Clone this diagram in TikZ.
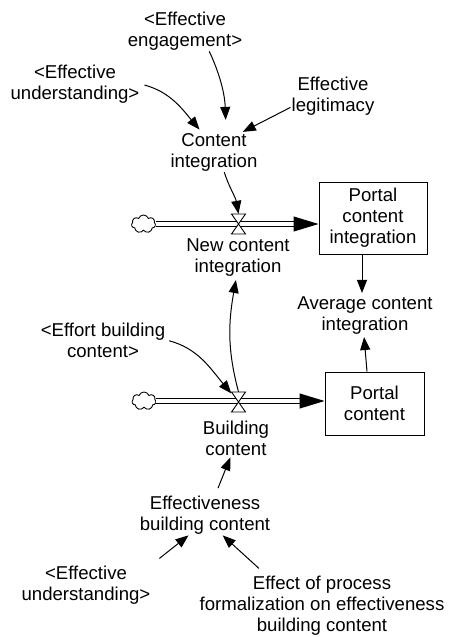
\documentclass[tikz,border=0pt]{standalone}
\usepackage{fontspec}
\setmainfont{Liberation Sans}
\usetikzlibrary{arrows.meta,calc,shapes.symbols}

\tikzset{
  lbl/.style={align=center, inner sep=1pt, font=\fontsize{18.6}{21}\selectfont},
  stock/.style={lbl, draw, line width=1pt, inner sep=0pt},
  arr/.style={line width=1pt, -{Triangle[length=13pt,width=10pt]}},
  pipe/.style={line width=1.1pt, double distance=3.4pt},
  pipehead/.style={line width=1pt, -{Triangle[length=25pt,width=15pt]}},
  cloudsrc/.style={cloud, cloud puffs=7, cloud puff arc=140, draw, line width=0.9pt,
    minimum width=24pt, minimum height=18pt, inner sep=0pt, fill=white, aspect=1.4},
  valve/.style={inner sep=0pt, minimum width=14pt, minimum height=20pt},
  valveshape/.style={draw, line width=0.9pt, fill=white}
}

\begin{document}
\begin{tikzpicture}[x=1pt, y=-1pt]
\useasboundingbox (0,0) rectangle (452,637);

% auxiliary variables
\node[lbl] (eng)  at (185,31)  {<Effective\\engagement>};
\node[lbl] (und1) at (75,84)   {<Effective\\understanding>};
\node[lbl] (leg)  at (333,96)  {Effective\\legitimacy};
\node[lbl] (ci)   at (214,152) {Content\\integration};
\node[lbl] (nci)  at (238,258) {New content\\integration};
\node[lbl] (aci)  at (365,316) {Average content\\integration};
\node[lbl] (ebcont) at (103,340) {<Effort building\\content>};
\node[lbl] (bc)   at (236,438) {Building\\content};
\node[lbl] (ebc)  at (205,515) {Effectiveness\\building content};
\node[lbl] (und2) at (86,585)  {<Effective\\understanding>};
\node[lbl] (eff)  at (322,606) {Effect of process\\formalization on effectiveness\\building content};

% stocks
\node[stock, minimum width=108pt, minimum height=72pt] (pci) at (373,218) {Portal\\content\\integration};
\node[stock, minimum width=99pt, minimum height=63pt] (pc) at (374.5,403.5) {Portal\\content};

% sources and valves
\node[cloudsrc] (cloud1) at (143.5,224) {};
\node[valve] (v1) at (238.5,224) {};
\node[cloudsrc] (cloud2) at (144,401) {};
\node[valve] (v2) at (238.5,402) {};

% flows
\draw[pipe] (cloud1.east) -- ([xshift=-24pt]cloud1.east -| pci.west);
\draw[pipehead] ([xshift=-25pt]cloud1.east -| pci.west) -- (cloud1.east -| pci.west);
\draw[pipe] (cloud2.east) -- ([xshift=-24pt]cloud2.east -| pc.west);
\draw[pipehead] ([xshift=-25pt]cloud2.east -| pc.west) -- (cloud2.east -| pc.west);

\draw[valveshape] ($(v1)+(-7,-10)$) -- ($(v1)+(7,-10)$) -- ($(v1)+(-7,10)$) -- ($(v1)+(7,10)$) -- cycle;
\draw[valveshape] ($(v2)+(-7,-10)$) -- ($(v2)+(7,-10)$) -- ($(v2)+(-7,10)$) -- ($(v2)+(7,10)$) -- cycle;

% information links
\draw[arr, shorten >=12pt] (eng.-40) to[out=-65, in=92] (ci.59);
\draw[arr, shorten <=4pt, shorten >=3pt] (und1.east) to[out=-15, in=130] (ci.122);
\draw[arr] (leg.195) -- (ci.35);
\draw[arr] (ci.-63) to[out=-72, in=100] (v1.north);
\draw[arr, shorten >=3pt] ([xshift=-11pt]pci.south) -- ([xshift=-3pt]aci.north);
\draw[arr, shorten >=1pt] ([xshift=-7.5pt]pc.north) -- ([xshift=-1pt]aci.south);
\draw[arr, shorten >=2pt] (v2.north) to[out=105, in=-100] (nci.-95);
\draw[arr, shorten <=3pt] (ebcont.east) to[out=-15, in=130] (v2.130);
\draw[arr, shorten <=7pt, shorten >=1pt] (ebc.63) -- (bc.-106);
\draw[arr, shorten <=10pt] (und2.north east) -- (ebc.-129);
\draw[arr, shorten <=10pt] (eff.151) -- (ebc.-49);
\end{tikzpicture}
\end{document}
